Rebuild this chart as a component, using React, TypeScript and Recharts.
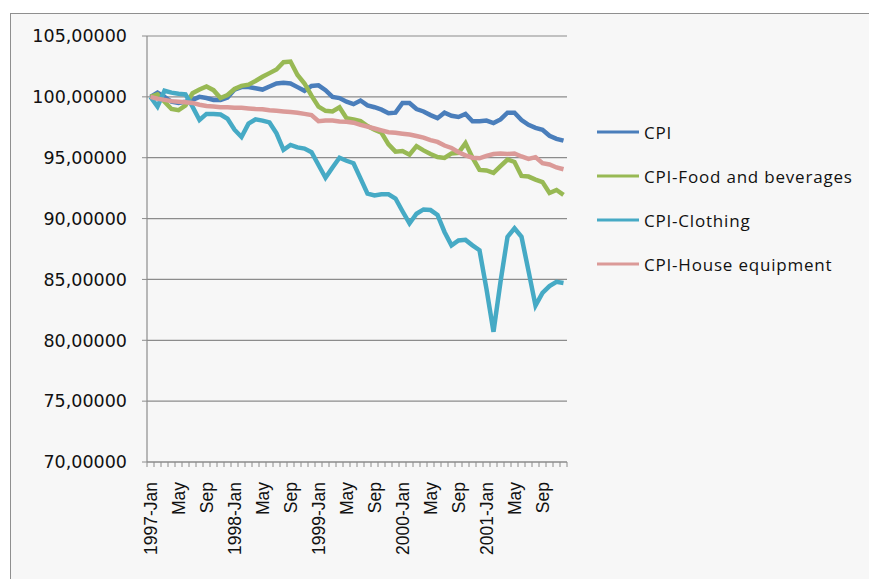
import React from 'react';
import { LineChart, Line, XAxis, YAxis, CartesianGrid, Legend } from 'recharts';

const monthNames = ['Jan', 'Feb', 'Mar', 'Apr', 'May', 'Jun', 'Jul', 'Aug', 'Sep', 'Oct', 'Nov', 'Dec'];
const years = [1997, 1998, 1999, 2000, 2001];

const cpi = [
  100, 100.35, 100.0, 99.6, 99.5, 99.6, 99.75, 100.0, 99.9, 99.75, 99.75, 99.95,
  100.6, 100.8, 100.8, 100.7, 100.6, 100.85, 101.1, 101.15, 101.1, 100.8, 100.5, 100.9,
  100.95, 100.55, 100.0, 99.9, 99.6, 99.4, 99.7, 99.3, 99.15, 98.95, 98.65, 98.7,
  99.5, 99.5, 99.0, 98.8, 98.5, 98.25, 98.7, 98.45, 98.35, 98.6, 98.0, 98.0,
  98.05, 97.85, 98.15, 98.7, 98.7, 98.1, 97.7, 97.45, 97.3, 96.8, 96.55, 96.4,
];

const food = [
  100, 100.2, 99.6, 99.0, 98.9, 99.3, 100.3, 100.6, 100.85, 100.55, 99.9, 100.15,
  100.65, 100.9, 101.0, 101.3, 101.65, 101.95, 102.25, 102.85, 102.9, 101.8, 101.1, 100.1,
  99.2, 98.85, 98.8, 99.15, 98.25, 98.15, 98.0, 97.6, 97.3, 97.05, 96.1, 95.5,
  95.55, 95.25, 95.95, 95.6, 95.3, 95.05, 94.98, 95.35, 95.4, 96.2, 95.0, 94.0,
  93.95, 93.75, 94.3, 94.85, 94.65, 93.5, 93.45, 93.2, 93.0, 92.1, 92.35, 91.95,
];

const clothing = [
  100, 99.2, 100.5, 100.35, 100.25, 100.2, 99.2, 98.1, 98.6, 98.6, 98.55, 98.2,
  97.3, 96.7, 97.8, 98.15, 98.05, 97.9, 97.0, 95.65, 96.05, 95.85, 95.75, 95.45,
  94.4, 93.35, 94.2, 95.0, 94.75, 94.55, 93.3, 92.05, 91.9, 92.0, 92.0, 91.65,
  90.6, 89.6, 90.4, 90.75, 90.7, 90.3, 88.9, 87.8, 88.2, 88.25, 87.8, 87.4,
  84.2, 80.7, 84.8, 88.5, 89.2, 88.5, 85.7, 82.85, 83.9, 84.45, 84.8, 84.7,
];

const house = [
  100, 99.85, 99.75, 99.65, 99.6, 99.55, 99.5, 99.35, 99.25, 99.2, 99.15, 99.15,
  99.1, 99.1, 99.05, 99.0, 98.98, 98.9, 98.85, 98.8, 98.75, 98.7, 98.6, 98.5,
  98.0, 98.05, 98.05, 97.98, 97.95, 97.88, 97.7, 97.55, 97.4, 97.25, 97.1, 97.05,
  96.97, 96.9, 96.78, 96.65, 96.45, 96.3, 96.0, 95.8, 95.45, 95.2, 95.0, 94.95,
  95.15, 95.3, 95.35, 95.3, 95.35, 95.1, 94.9, 95.05, 94.55, 94.45, 94.2, 94.05,
];

const yTicks = [70, 75, 80, 85, 90, 95, 100, 105];

const seriesNames = ['CPI', 'CPI-Food and beverages', 'CPI-Clothing', 'CPI-House equipment'];
const seriesColors = ['#4A7EBB', '#98B954', '#46AAC5', '#DB9A98'];

const periods: string[] = [];
const labels: string[] = [];
years.forEach((y) =>
  monthNames.forEach((m, mi) => {
    periods.push(`${y}-${m}`);
    labels.push(mi === 0 ? `${y}-${m}` : m);
  })
);

const data = periods.map((period, i) => ({
  period,
  cpi: cpi[i],
  food: food[i],
  clothing: clothing[i],
  house: house[i],
}));

const keys = ['cpi', 'food', 'clothing', 'house'];

const XTick = (props: any) => {
  const { x, index } = props;
  const half = 3.5;
  const axisY = 462;
  return (
    <g>
      <line x1={x - half} x2={x - half} y1={axisY} y2={axisY + 5} stroke="#8c8c8c" strokeWidth={1} />
      {index === labels.length - 1 && (
        <line x1={x + half} x2={x + half} y1={axisY} y2={axisY + 5} stroke="#8c8c8c" strokeWidth={1} />
      )}
      {index % 4 === 0 && (
        <text
          transform={`translate(${x},${axisY + 20}) rotate(-90)`}
          textAnchor="end"
          dy="0.36em"
          fontFamily="Liberation Sans, Arial, sans-serif"
          fontSize={17.5}
          fill="#111"
        >
          {labels[index]}
        </text>
      )}
    </g>
  );
};

const YTick = (props: any) => {
  const { x, y, payload } = props;
  return (
    <text
      x={x}
      y={y}
      dy="0.36em"
      textAnchor="end"
      fontFamily="DejaVu Sans, Verdana, sans-serif"
      fontSize={17.5}
      fill="#111"
    >
      {Number(payload.value).toFixed(5).replace('.', ',')}
    </text>
  );
};

const LegendContent = () => (
  <div style={{ fontFamily: "'Open Sans', sans-serif", fontSize: 17, letterSpacing: 0.8, color: '#111' }}>
    {seriesNames.map((n, i) => (
      <div key={n} style={{ display: 'flex', alignItems: 'center', height: 44 }}>
        <svg width={44} height={10} style={{ marginRight: 3 }}>
          <line x1={0} x2={42} y1={5} y2={5} stroke={seriesColors[i]} strokeWidth={3} />
        </svg>
        <span style={{ whiteSpace: 'nowrap' }}>{n}</span>
      </div>
    ))}
  </div>
);

export default function App() {
  return (
    <div style={{ position: 'absolute', left: 0, top: 0, width: 869, height: 579, overflow: 'hidden', background: '#fff' }}>
      <div
        style={{
          position: 'absolute',
          left: 10,
          top: 13,
          width: 900,
          height: 600,
          border: '1.5px solid #8f8f8f',
          background: '#f7f7f7',
        }}
      />
      <div style={{ position: 'absolute', left: 0, top: 0 }}>
        <LineChart width={869} height={579} data={data} margin={{ top: 36, right: 302, left: 0, bottom: 0 }}>
          <CartesianGrid vertical={false} stroke="#8c8c8c" strokeWidth={1.2} />
          <XAxis
            dataKey="period"
            interval={0}
            height={117}
            padding={{ left: 3.5, right: 3.5 }}
            tickSize={5}
            tickLine={false}
            tick={<XTick />}
            axisLine={{ stroke: '#8c8c8c', strokeWidth: 1.2 }}
          />
          <YAxis
            domain={[70, 105]}
            ticks={yTicks}
            width={147}
            tickSize={5}
            tickMargin={15}
            interval={0}
            tick={<YTick />}
            tickLine={{ stroke: '#8c8c8c' }}
            axisLine={{ stroke: '#8c8c8c', strokeWidth: 1.2 }}
          />
          <Legend
            layout="vertical"
            align="center"
            verticalAlign="middle"
            content={<LegendContent />}
            wrapperStyle={{ left: 597, top: 110, width: 270 }}
          />
          {keys.map((k, i) => (
            <Line
              key={k}
              type="linear"
              dataKey={k}
              name={seriesNames[i]}
              stroke={seriesColors[i]}
              strokeWidth={4.5}
              dot={false}
              isAnimationActive={false}
            />
          ))}
        </LineChart>
      </div>
    </div>
  );
}
